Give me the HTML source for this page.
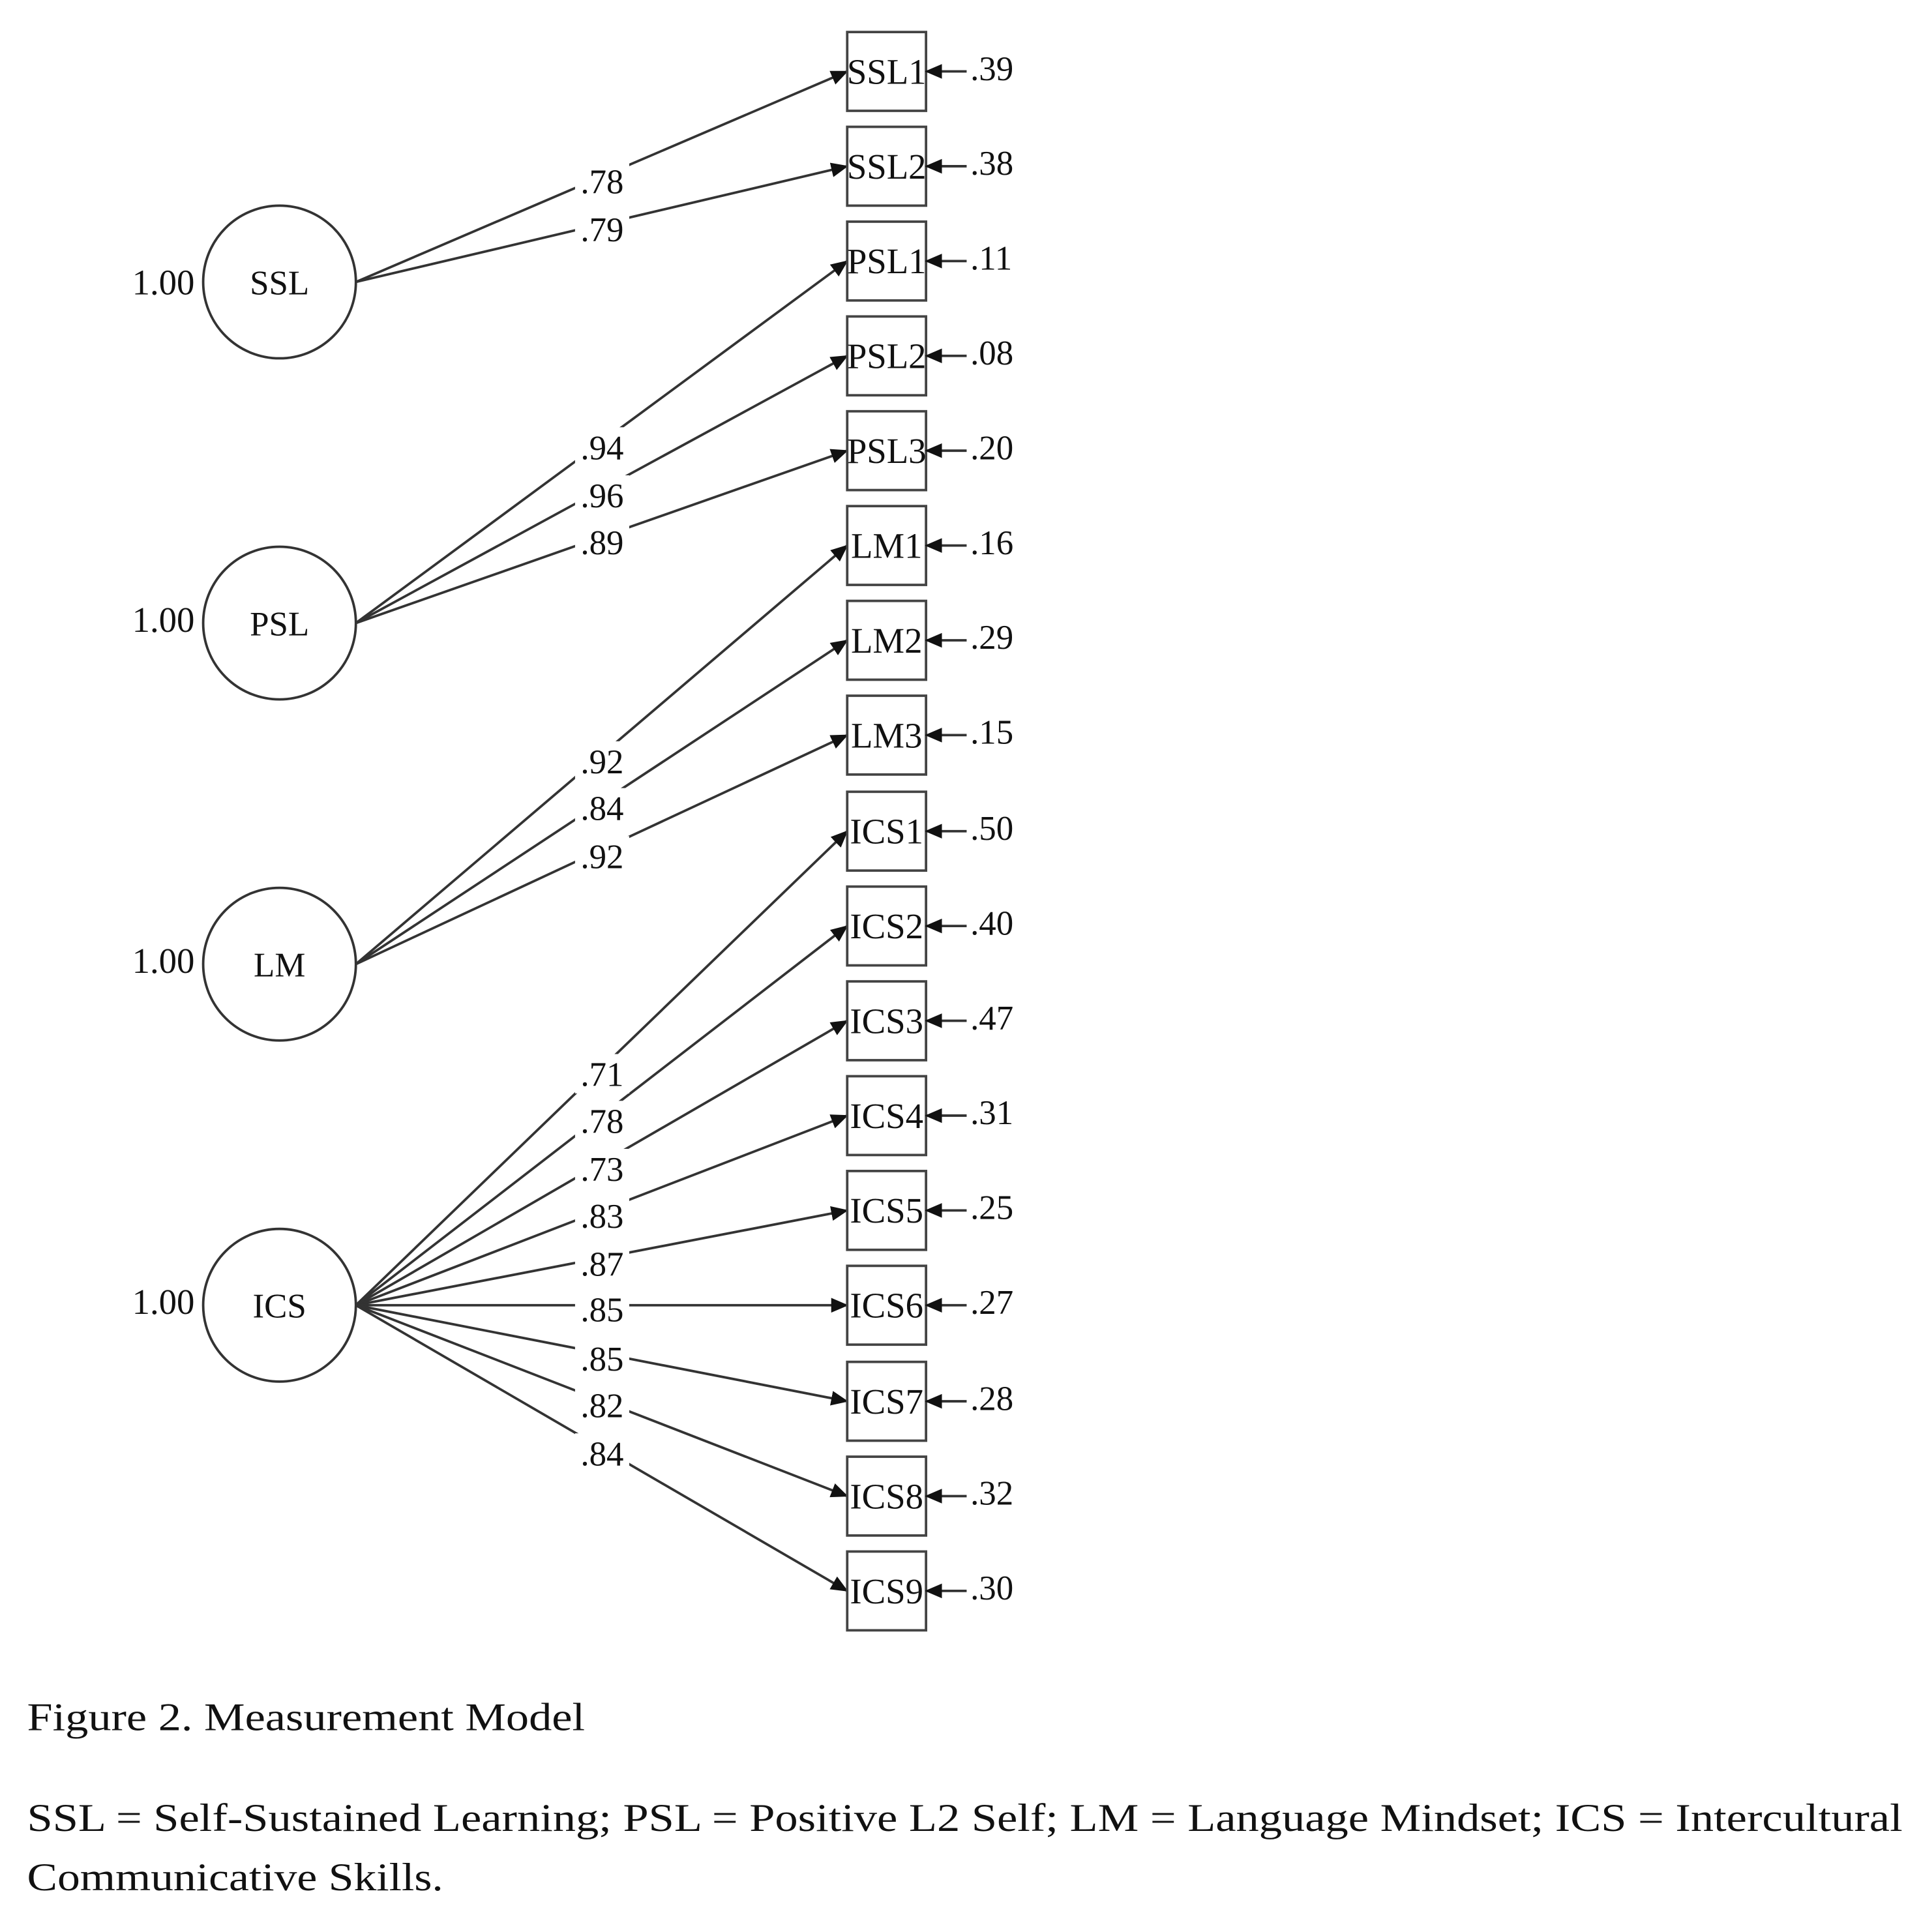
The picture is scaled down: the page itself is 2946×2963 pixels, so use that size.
<!DOCTYPE html>
<html><head><meta charset="utf-8"><style>
html,body{margin:0;padding:0;background:#fff;}
svg{display:block;}
text{font-family:"Liberation Serif",serif;fill:#111;}
</style></head><body>
<svg width="2946" height="2963" viewBox="0 0 1560 1569" xmlns="http://www.w3.org/2000/svg">
<defs>
<marker id="a" markerWidth="14" markerHeight="12" refX="13" refY="6" orient="auto" markerUnits="userSpaceOnUse"><path d="M0,0 L14,6 L0,12 z" fill="#111"/></marker>
</defs>
<g stroke="#333" stroke-width="2" fill="none">
<line x1="289" y1="229" x2="688" y2="58" marker-end="url(#a)"/>
<line x1="289" y1="229" x2="688" y2="135" marker-end="url(#a)"/>
<line x1="289" y1="506" x2="688" y2="212" marker-end="url(#a)"/>
<line x1="289" y1="506" x2="688" y2="289" marker-end="url(#a)"/>
<line x1="289" y1="506" x2="688" y2="366" marker-end="url(#a)"/>
<line x1="289" y1="783" x2="688" y2="443" marker-end="url(#a)"/>
<line x1="289" y1="783" x2="688" y2="520" marker-end="url(#a)"/>
<line x1="289" y1="783" x2="688" y2="597" marker-end="url(#a)"/>
<line x1="289" y1="1060" x2="688" y2="675" marker-end="url(#a)"/>
<line x1="289" y1="1060" x2="688" y2="752" marker-end="url(#a)"/>
<line x1="289" y1="1060" x2="688" y2="829" marker-end="url(#a)"/>
<line x1="289" y1="1060" x2="688" y2="906" marker-end="url(#a)"/>
<line x1="289" y1="1060" x2="688" y2="983" marker-end="url(#a)"/>
<line x1="289" y1="1060" x2="688" y2="1060" marker-end="url(#a)"/>
<line x1="289" y1="1060" x2="688" y2="1138" marker-end="url(#a)"/>
<line x1="289" y1="1060" x2="688" y2="1215" marker-end="url(#a)"/>
<line x1="289" y1="1060" x2="688" y2="1292" marker-end="url(#a)"/>
<circle cx="227" cy="229" r="62"/>
<circle cx="227" cy="506" r="62"/>
<circle cx="227" cy="783" r="62"/>
<circle cx="227" cy="1060" r="62"/>
</g>
<g fill="#fff">
<rect x="467" y="131" width="44" height="32"/><rect x="467" y="170" width="44" height="32"/>
<rect x="467" y="347" width="44" height="32"/><rect x="467" y="386" width="44" height="32"/><rect x="467" y="424" width="44" height="32"/>
<rect x="467" y="602" width="44" height="32"/><rect x="467" y="640" width="44" height="32"/><rect x="467" y="679" width="44" height="32"/>
<rect x="467" y="856" width="44" height="32"/><rect x="467" y="894" width="44" height="32"/><rect x="467" y="933" width="44" height="32"/><rect x="467" y="971" width="44" height="32"/><rect x="467" y="1010" width="44" height="32"/><rect x="467" y="1047" width="44" height="32"/><rect x="467" y="1087" width="44" height="32"/><rect x="467" y="1125" width="44" height="32"/><rect x="467" y="1164" width="44" height="32"/>
</g>
<g font-size="28" text-anchor="middle">
<text x="489" y="157">.78</text><text x="489" y="196">.79</text>
<text x="489" y="373">.94</text><text x="489" y="412">.96</text><text x="489" y="450">.89</text>
<text x="489" y="628">.92</text><text x="489" y="666">.84</text><text x="489" y="705">.92</text>
<text x="489" y="882">.71</text><text x="489" y="920">.78</text><text x="489" y="959">.73</text><text x="489" y="997">.83</text><text x="489" y="1036">.87</text><text x="489" y="1073">.85</text><text x="489" y="1113">.85</text><text x="489" y="1151">.82</text><text x="489" y="1190">.84</text>
</g>
<g font-size="28" text-anchor="middle">
<text x="227" y="239">SSL</text><text x="227" y="516">PSL</text><text x="227" y="793">LM</text><text x="227" y="1070">ICS</text>
</g>
<g font-size="29" text-anchor="end">
<text x="158" y="239">1.00</text><text x="158" y="513">1.00</text><text x="158" y="790">1.00</text><text x="158" y="1067">1.00</text>
</g>
<g stroke="#444" stroke-width="2" fill="none">
<rect x="688" y="26" width="64" height="64"/><rect x="688" y="103" width="64" height="64"/><rect x="688" y="180" width="64" height="64"/><rect x="688" y="257" width="64" height="64"/><rect x="688" y="334" width="64" height="64"/><rect x="688" y="411" width="64" height="64"/><rect x="688" y="488" width="64" height="64"/><rect x="688" y="565" width="64" height="64"/><rect x="688" y="643" width="64" height="64"/><rect x="688" y="720" width="64" height="64"/><rect x="688" y="797" width="64" height="64"/><rect x="688" y="874" width="64" height="64"/><rect x="688" y="951" width="64" height="64"/><rect x="688" y="1028" width="64" height="64"/><rect x="688" y="1106" width="64" height="64"/><rect x="688" y="1183" width="64" height="64"/><rect x="688" y="1260" width="64" height="64"/>
</g>
<g stroke="#333" stroke-width="2">
<line x1="785" y1="58" x2="752" y2="58" marker-end="url(#a)"/><line x1="785" y1="135" x2="752" y2="135" marker-end="url(#a)"/><line x1="785" y1="212" x2="752" y2="212" marker-end="url(#a)"/><line x1="785" y1="289" x2="752" y2="289" marker-end="url(#a)"/><line x1="785" y1="366" x2="752" y2="366" marker-end="url(#a)"/><line x1="785" y1="443" x2="752" y2="443" marker-end="url(#a)"/><line x1="785" y1="520" x2="752" y2="520" marker-end="url(#a)"/><line x1="785" y1="597" x2="752" y2="597" marker-end="url(#a)"/><line x1="785" y1="675" x2="752" y2="675" marker-end="url(#a)"/><line x1="785" y1="752" x2="752" y2="752" marker-end="url(#a)"/><line x1="785" y1="829" x2="752" y2="829" marker-end="url(#a)"/><line x1="785" y1="906" x2="752" y2="906" marker-end="url(#a)"/><line x1="785" y1="983" x2="752" y2="983" marker-end="url(#a)"/><line x1="785" y1="1060" x2="752" y2="1060" marker-end="url(#a)"/><line x1="785" y1="1138" x2="752" y2="1138" marker-end="url(#a)"/><line x1="785" y1="1215" x2="752" y2="1215" marker-end="url(#a)"/><line x1="785" y1="1292" x2="752" y2="1292" marker-end="url(#a)"/>
</g>
<g font-size="29" text-anchor="middle">
<text x="720" y="68">SSL1</text><text x="720" y="145">SSL2</text><text x="720" y="222">PSL1</text><text x="720" y="299">PSL2</text><text x="720" y="376">PSL3</text><text x="720" y="453">LM1</text><text x="720" y="530">LM2</text><text x="720" y="607">LM3</text><text x="720" y="685">ICS1</text><text x="720" y="762">ICS2</text><text x="720" y="839">ICS3</text><text x="720" y="916">ICS4</text><text x="720" y="993">ICS5</text><text x="720" y="1070">ICS6</text><text x="720" y="1148">ICS7</text><text x="720" y="1225">ICS8</text><text x="720" y="1302">ICS9</text>
</g>
<g font-size="28">
<text x="788" y="65">.39</text><text x="788" y="142">.38</text><text x="788" y="219">.11</text><text x="788" y="296">.08</text><text x="788" y="373">.20</text><text x="788" y="450">.16</text><text x="788" y="527">.29</text><text x="788" y="604">.15</text><text x="788" y="682">.50</text><text x="788" y="759">.40</text><text x="788" y="836">.47</text><text x="788" y="913">.31</text><text x="788" y="990">.25</text><text x="788" y="1067">.27</text><text x="788" y="1145">.28</text><text x="788" y="1222">.32</text><text x="788" y="1299">.30</text>
</g>
<g font-size="32">
<text x="22" y="1405" textLength="453" lengthAdjust="spacingAndGlyphs">Figure 2. Measurement Model</text>
<text x="22" y="1487" textLength="1523" lengthAdjust="spacingAndGlyphs">SSL = Self-Sustained Learning; PSL = Positive L2 Self; LM = Language Mindset; ICS = Intercultural</text>
<text x="22" y="1535" textLength="338" lengthAdjust="spacingAndGlyphs">Communicative Skills.</text>
</g>
</svg>
</body></html>
